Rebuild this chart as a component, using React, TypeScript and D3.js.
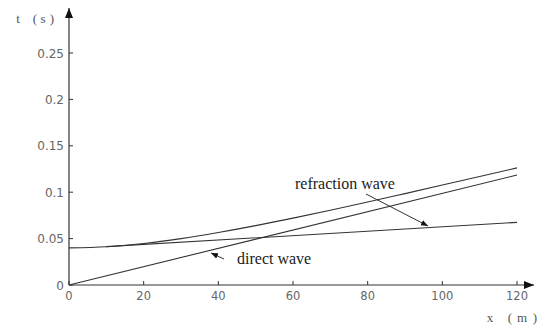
import { useRef, useEffect } from 'react';
import * as d3 from 'd3';

const X_TICKS = [0, 20, 40, 60, 80, 100, 120];
const Y_TICKS = [0, 0.05, 0.1, 0.15, 0.2, 0.25];
const Y_TICK_LABELS = ['0', '0.05', '0.1', '0.15', '0.2', '0.25'];

// values
const DIRECT_WAVE = [[0, 0], [120, 0.1185]];
const REFLECT_CURVE = [
  [0, 0.04], [10, 0.0412], [20, 0.0447], [30, 0.05], [40, 0.0566], [50, 0.064],
  [60, 0.0721], [70, 0.0806], [80, 0.0894], [90, 0.0985], [100, 0.1077],
  [110, 0.117], [120, 0.1262],
];
const REFRACTION_WAVE = [[10, 0.0413], [120, 0.0675]];

export default function App() {
  const svgRef = useRef<SVGSVGElement>(null);

  useEffect(() => {
    const width = 543, height = 329;
    const svg = d3.select(svgRef.current).attr('width', width).attr('height', height);
    svg.selectAll('*').remove();

    const x = d3.scaleLinear().domain([0, 120]).range([69, 517]);
    const y = d3.scaleLinear().domain([0, 0.25]).range([285, 53]);
    const ink = '#333';

    const defs = svg.append('defs');
    defs.append('marker').attr('id', 'ah').attr('viewBox', '0 0 10 10')
      .attr('refX', 10).attr('refY', 5).attr('markerWidth', 10).attr('markerHeight', 10)
      .attr('markerUnits', 'userSpaceOnUse').attr('orient', 'auto')
      .append('path').attr('d', 'M0,1 L10,5 L0,9 Z').attr('fill', '#111');
    defs.append('marker').attr('id', 'sm').attr('viewBox', '0 0 10 10')
      .attr('refX', 10).attr('refY', 5).attr('markerWidth', 7).attr('markerHeight', 7)
      .attr('markerUnits', 'userSpaceOnUse').attr('orient', 'auto')
      .append('path').attr('d', 'M0,1 L10,5 L0,9 Z').attr('fill', '#111');

    // Axes
    svg.append('line').attr('x1', 69).attr('y1', 285).attr('x2', 534).attr('y2', 285)
      .attr('stroke', ink).attr('stroke-width', 1.2).attr('marker-end', 'url(#ah)');
    svg.append('line').attr('x1', 69).attr('y1', 285).attr('x2', 69).attr('y2', 8)
      .attr('stroke', ink).attr('stroke-width', 1.2).attr('marker-end', 'url(#ah)');

    const tickFont = '"DejaVu Sans", sans-serif';
    X_TICKS.forEach(t => {
      svg.append('line').attr('x1', x(t)).attr('x2', x(t)).attr('y1', 285).attr('y2', 281)
        .attr('stroke', ink);
      svg.append('text').attr('x', x(t)).attr('y', 300).attr('text-anchor', 'middle')
        .attr('font-family', tickFont).attr('font-size', 11.5).attr('fill', '#666')
        .text(String(t));
    });
    Y_TICKS.forEach((t, i) => {
      svg.append('line').attr('x1', 69).attr('x2', 73).attr('y1', y(t)).attr('y2', y(t))
        .attr('stroke', ink);
      svg.append('text').attr('x', 64).attr('y', y(t) + 4.5).attr('text-anchor', 'end')
        .attr('font-family', tickFont).attr('font-size', 12).attr('fill', '#666')
        .text(Y_TICK_LABELS[i]);
    });

    // Axis labels
    const serif = '"Liberation Serif", "Times New Roman", serif';
    const lab = (s: string, px: number, py: number) =>
      svg.append('text').attr('x', px).attr('y', py).attr('text-anchor', 'middle')
        .attr('font-family', serif).attr('font-size', 13).attr('fill', '#555').text(s);
    lab('t', 18, 23); lab('(', 35, 23); lab('s', 43, 23); lab(')', 52, 23);
    lab('x', 490, 322); lab('(', 510, 322); lab('m', 522, 322); lab(')', 535, 322);

    // Lines
    const line = d3.line<number[]>().x(d => x(d[0])).y(d => y(d[1]));
    const curve = d3.line<number[]>().x(d => x(d[0])).y(d => y(d[1])).curve(d3.curveMonotoneX);
    svg.append('path').attr('d', line(DIRECT_WAVE)).attr('fill', 'none').attr('stroke', ink).attr('stroke-width', 1.1);
    svg.append('path').attr('d', curve(REFLECT_CURVE)).attr('fill', 'none').attr('stroke', ink).attr('stroke-width', 1.1);
    svg.append('path').attr('d', line(REFRACTION_WAVE)).attr('fill', 'none').attr('stroke', ink).attr('stroke-width', 1.1);

    // Annotations
    svg.append('text').attr('x', 295).attr('y', 189)
      .attr('font-family', serif).attr('font-size', 16).attr('fill', '#222')
      .text('refraction wave');
    svg.append('line').attr('x1', 366).attr('y1', 194).attr('x2', 428).attr('y2', 226)
      .attr('stroke', ink).attr('marker-end', 'url(#sm)');
    svg.append('text').attr('x', 237).attr('y', 264)
      .attr('font-family', serif).attr('font-size', 16).attr('fill', '#222')
      .text('direct wave');
    svg.append('line').attr('x1', 224).attr('y1', 259).attr('x2', 211).attr('y2', 253)
      .attr('stroke', ink).attr('marker-end', 'url(#sm)');
  }, []);

  return (
    <svg ref={svgRef} style={{ position: 'absolute', left: 0, top: 0, background: '#fff' }} />
  );
}
